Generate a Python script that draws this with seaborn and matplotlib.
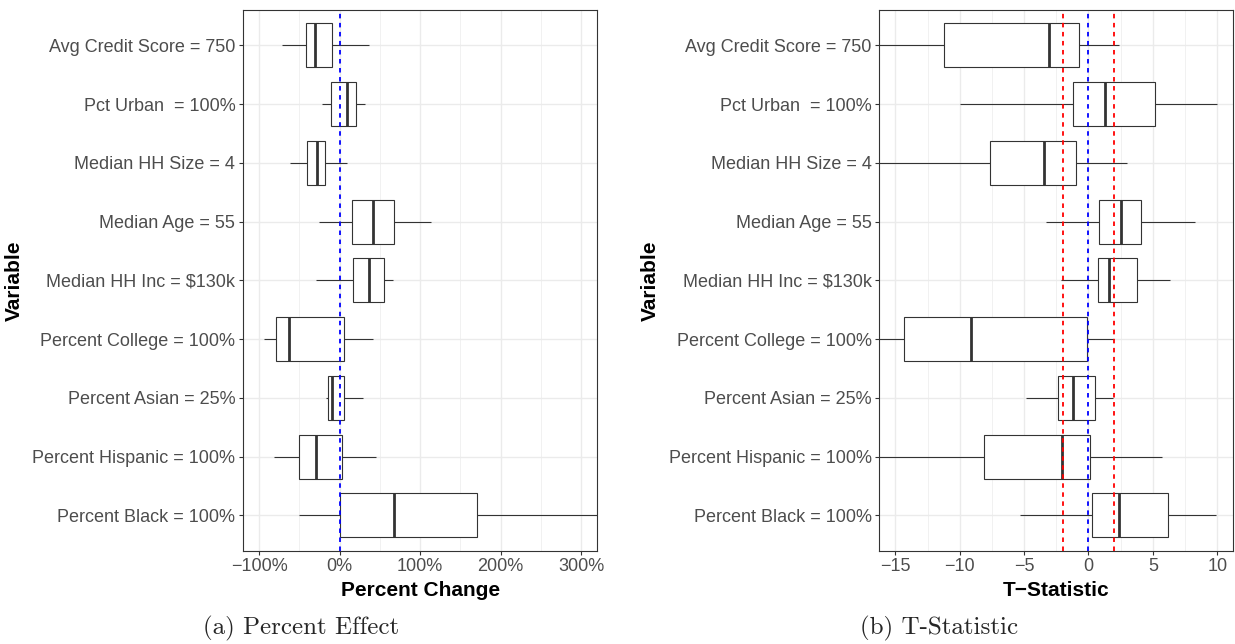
import numpy as np
import pandas as pd
import matplotlib

matplotlib.use('Agg')
import matplotlib.pyplot as plt
import seaborn as sns
from matplotlib.ticker import PercentFormatter, MultipleLocator

# ------------------------------------------
# data: five-number summaries
# ------------------------------------------
variables = [
    "Avg Credit Score = 750",
    "Pct Urban  = 100%",
    "Median HH Size = 4",
    "Median Age = 55",
    "Median HH Inc = $130k",
    "Percent College = 100%",
    "Percent Asian = 25%",
    "Percent Hispanic = 100%",
    "Percent Black = 100%",
]

# (a) percent effect, as fractions (1.0 = 100%)
pct_lo = [-0.71, -0.22, -0.62, -0.25, -0.29, -0.94, -0.17, -0.81, -0.50]
pct_q1 = [-0.42, -0.11, -0.40, 0.15, 0.17, -0.79, -0.14, -0.51, 0.00]
pct_med = [-0.30, 0.09, -0.28, 0.42, 0.36, -0.63, -0.09, -0.29, 0.67]
pct_q3 = [-0.10, 0.20, -0.18, 0.68, 0.55, 0.05, 0.05, 0.03, 1.71]
pct_hi = [0.36, 0.32, 0.09, 1.13, 0.66, 0.41, 0.29, 0.45, 4.00]

# (b) t-statistics
t_lo = [-20.0, -9.95, -20.0, -3.30, -2.14, -20.0, -4.87, -20.0, -5.31]
t_q1 = [-11.19, -1.19, -7.63, 0.82, 0.72, -14.33, -2.35, -8.10, 0.31]
t_med = [-3.04, 1.31, -3.45, 2.55, 1.57, -9.13, -1.24, -2.06, 2.40]
t_q3 = [-0.75, 5.16, -0.95, 4.07, 3.76, -0.15, 0.49, 0.15, 6.21]
t_hi = [2.40, 9.95, 2.99, 8.30, 6.32, 2.01, 1.93, 5.70, 9.90]

t_crit = 1.96


def long_frame(lo, q1, med, q3, hi):
    # five points per variable -> quartiles land exactly on q1 / med / q3
    rows = []
    for i, v in enumerate(variables):
        for val in (lo[i], q1[i], med[i], q3[i], hi[i]):
            rows.append({'variable': v, 'value': val})
    return pd.DataFrame(rows)


df_pct = long_frame(pct_lo, pct_q1, pct_med, pct_q3, pct_hi)
df_t = long_frame(t_lo, t_q1, t_med, t_q3, t_hi)

# ------------------------------------------
# style (ggplot theme_bw look)
# ------------------------------------------
sns.set_theme(style='ticks')
plt.rcParams['font.family'] = ['Liberation Sans', 'DejaVu Sans']
plt.rcParams['axes.unicode_minus'] = True

fig = plt.figure(figsize=(12.35, 6.44), dpi=100)
ax1 = fig.add_axes([243 / 1235, 93.3 / 644, 354.3 / 1235, 540.7 / 644])
ax2 = fig.add_axes([879.3 / 1235, 93.3 / 644, 354.0 / 1235, 540.7 / 644])

dash = (0, (2.5, 2.5))


def draw_panel(ax, df, xlim, xlabel):
    sns.boxplot(data=df, x='value', y='variable', order=variables, orient='h',
                whis=(0, 100), width=0.75, color='white', linecolor='#333333',
                linewidth=0.8, showcaps=False, medianprops={'linewidth': 2.0},
                ax=ax)
    ax.set_xlim(*xlim)
    ax.set_ylim(8.6, -0.6)
    ax.set_axisbelow(True)
    ax.grid(True, which='major', color='#EBEBEB', linewidth=1.0)
    ax.grid(True, which='minor', axis='x', color='#EBEBEB', linewidth=0.5)
    for s in ax.spines.values():
        s.set_visible(True)
        s.set_color('#333333')
        s.set_linewidth(0.8)
    ax.tick_params(which='major', length=3, width=0.8, color='#333333',
                   labelsize=13, labelcolor='#4D4D4D', pad=2.5)
    ax.tick_params(which='minor', length=0)
    ax.set_xlabel(xlabel, fontsize=15, fontweight='bold', color='black', labelpad=4)
    ax.set_ylabel('Variable', fontsize=15, fontweight='bold', color='black', labelpad=6)


# panel (a)
draw_panel(ax1, df_pct, (-1.2, 3.2), 'Percent Change')
ax1.xaxis.set_major_locator(MultipleLocator(1.0))
ax1.xaxis.set_minor_locator(MultipleLocator(0.5))
ax1.xaxis.set_major_formatter(PercentFormatter(xmax=1.0, decimals=0))
ax1.axvline(0, color='blue', linestyle=dash, linewidth=1.3, zorder=5)

# panel (b)
draw_panel(ax2, df_t, (-16.25, 11.25), 'T\u2212Statistic')
ax2.xaxis.set_major_locator(MultipleLocator(5))
ax2.xaxis.set_minor_locator(MultipleLocator(2.5))
ax2.axvline(-t_crit, color='red', linestyle=dash, linewidth=1.3, zorder=5)
ax2.axvline(t_crit, color='red', linestyle=dash, linewidth=1.3, zorder=5)
ax2.axvline(0, color='blue', linestyle=dash, linewidth=1.3, zorder=5)

# sub-captions
fig.text(301 / 1235, 16 / 644, '(a) Percent Effect', family='cmr10', fontsize=18,
         ha='center', va='center')
fig.text(939 / 1235, 16 / 644, '(b) T-Statistic', family='cmr10', fontsize=18,
         ha='center', va='center')

fig.savefig('out.png', dpi=100)
plt.close(fig)
